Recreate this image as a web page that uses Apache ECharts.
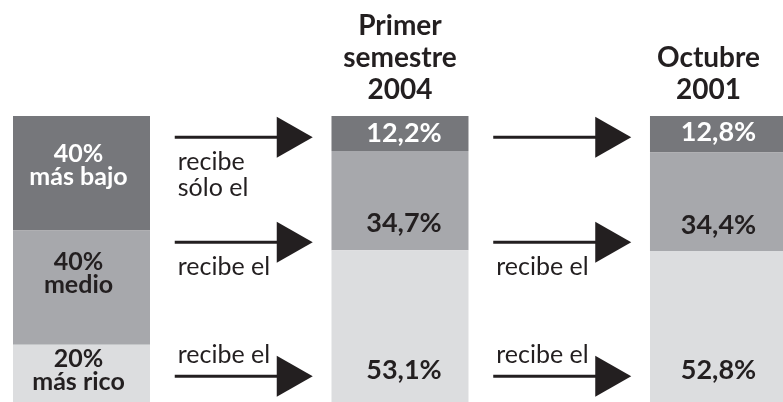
<!DOCTYPE html>
<html>
<head>
<meta charset="utf-8">
<script src="https://cdn.jsdelivr.net/npm/echarts@6/dist/echarts.min.js"></script>
<style>
  html, body { margin: 0; padding: 0; background: #fff; }
  #chart { width: 783px; height: 402px; }
</style>
</head>
<body>
<div id="chart"></div>
<script>
// columns: population groups, then the two periods, arrows sit in the gaps
const columns = ['', '', 'Primer\nsemestre\n2004', '', 'Octubre\n2001']
const groupLabels = ['40%\nmás bajo', '40%\nmedio', '20%\nmás rico']
const groupShares = [40, 40, 20]
const share2004 = [12.2, 34.7, 53.1]
const share2001 = [12.8, 34.4, 52.8]

// arrows: which gap column, at which level (percent from top)
const arrowCols = [1, 3]
const arrowLevels = [7.4, 44.1, 91.0]
const arrowNotes = [
  ['recibe\nsólo el', 'recibe el', 'recibe el'],
  ['', 'recibe el', 'recibe el']
]

const colors = ['#76777b', '#a7a8ac', '#dcdddf']
const ink = '#231f20'
const font = 'Lato'

// label nudges per segment, for column 0 / 2 / 4
const labelShiftY = [[-8, 0, -2], [-14, 23, 23], [-3, 44, 44]]
const labelShiftX = [-3, 4, 0]

function pct(v) {
  return v.toFixed(1).replace('.', ',') + '%'
}

function buildSeries(seg) {
  const values = [groupShares[seg], '-', share2004[seg], '-', share2001[seg]]
  const data = values.map(function(v, i) {
    if (v === '-') return '-'
    const k = i / 2
    return {
      value: v,
      label: {
        offset: [labelShiftX[k], labelShiftY[seg][k]],
        formatter: i === 0 ? groupLabels[seg] : pct(v),
        fontSize: i === 0 ? 25 : 27,
        lineHeight: 23
      }
    }
  })
  return {
    type: 'bar',
    stack: 'total',
    barWidth: 137,
    clip: false,
    silent: true,
    itemStyle: { color: colors[seg] },
    label: {
      show: true,
      position: 'inside',
      color: seg === 0 ? '#fff' : ink,
      fontFamily: font,
      fontWeight: 'bold'
    },
    data: data
  }
}

const arrowData = []
arrowCols.forEach(function(c, s) {
  arrowLevels.forEach(function(lv, r) {
    arrowData.push([c, lv, s, r])
  })
})

function renderArrow(params, api) {
  const p = api.coord([api.value(0), api.value(1)])
  const s = api.value(2)
  const r = api.value(3)
  const note = arrowNotes[s][r]
  const above = r === 2
  return {
    type: 'group',
    children: [
      {
        type: 'line',
        shape: { x1: p[0] - 66, y1: p[1], x2: p[0] + 40, y2: p[1] },
        style: { stroke: ink, lineWidth: 3 }
      },
      {
        type: 'polygon',
        shape: { points: [[p[0] + 36, p[1] - 20.5], [p[0] + 72, p[1]], [p[0] + 36, p[1] + 20.5]] },
        style: { fill: ink }
      },
      {
        type: 'text',
        style: {
          text: note,
          x: p[0] - 63,
          y: above ? p[1] - 8 : p[1] + 12,
          align: 'left',
          verticalAlign: above ? 'bottom' : 'top',
          font: '25px ' + font,
          lineHeight: 26,
          fill: ink
        }
      }
    ]
  }
}

const chart = echarts.init(document.getElementById('chart'))
chart.setOption({
  animation: false,
  grid: { left: 81.5, right: 63, top: 116, height: 290 },
  xAxis: {
    type: 'category',
    position: 'top',
    boundaryGap: false,
    data: columns.map(function(c, i) {
      return i === 4 ? { value: c, textStyle: { padding: [0, 20, 0, 0] } } : c
    }),
    axisLine: { show: false },
    axisTick: { show: false },
    splitLine: { show: false },
    axisLabel: {
      interval: 0,
      margin: 10,
      color: ink,
      fontFamily: font,
      fontWeight: 'bold',
      fontSize: 28,
      lineHeight: 32
    }
  },
  yAxis: { type: 'value', min: 0, max: 100, inverse: true, show: false },
  series: [
    buildSeries(0),
    buildSeries(1),
    buildSeries(2),
    {
      type: 'custom',
      silent: true,
      clip: false,
      renderItem: renderArrow,
      data: arrowData
    }
  ]
})
</script>
</body>
</html>
